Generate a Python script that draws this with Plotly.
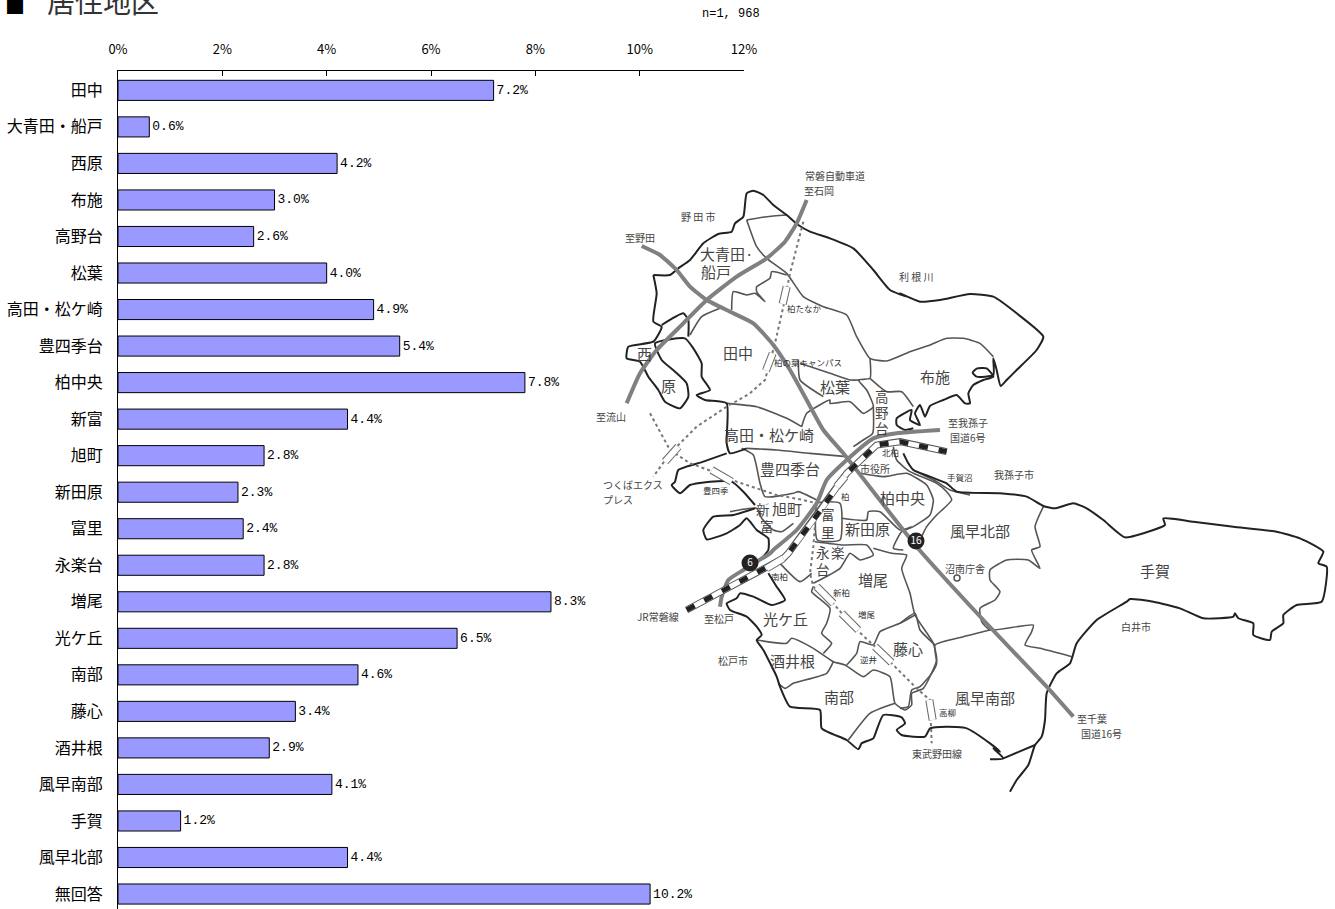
import plotly.graph_objects as go

# ---- chart data ----
areas = ["田中", "大青田・船戸", "西原", "布施", "高野台", "松葉", "高田・松ケ崎", "豊四季台", "柏中央", "新富", "旭町",
         "新田原", "富里", "永楽台", "増尾", "光ケ丘", "南部", "藤心", "酒井根", "風早南部", "手賀", "風早北部", "無回答"]
shares = [7.2, 0.6, 4.2, 3.0, 2.6, 4.0, 4.9, 5.4, 7.8, 4.4, 2.8, 2.3, 2.4, 2.8, 8.3, 6.5, 4.6, 3.4, 2.9, 4.1, 1.2, 4.4, 10.2]
title_mark = "■"
title_text = "居住地区"
n_text = "n=1, 968"

W, H = 1335, 909
LAT = "Liberation Mono, Noto Sans CJK JP"
JP = "Noto Sans CJK JP"

# ---- the map illustration, traced as page pixel positions ----
def Z(ox, oy, pts):
    return [(ox + a / 3, oy + b / 3) for a, b in pts]

outer = [
    Z(590, 160, [(190,345),(240,345),(265,325),(300,300),(340,250),(385,222),(425,215),(435,190),(460,170),(470,100),(490,92),(520,105),(550,135),(590,165),(625,195),(660,215),(720,235),(790,265),(850,330),(900,390),(950,410)])
    + Z(830, 280, [(210,40),(270,65),(330,60),(420,42),(490,50),(560,100),(640,170),(620,210),(560,270),(530,300),(512,318),(500,270),(490,235),(490,285),(440,290),(428,278),(440,266),(470,265),(490,290),(460,300),(430,315),(415,340),(420,370),(405,370),(380,345),(340,360),(300,378),(285,410),(270,375),(255,400),(270,435),(240,420),(245,390),(200,415),(200,435),(225,450),(250,445)]),
    Z(590, 160, [(190,345),(200,400),(190,485),(215,500),(190,545),(115,560),(110,595),(150,605),(175,650),(205,690),(225,725),(270,745),(295,710),(290,670),(255,635),(215,600),(195,550),(285,535),(310,565),(335,610),(335,650),(360,690),(320,705),(345,720),(410,730),(410,850),(420,880),(470,865)]),
    Z(590, 160, [(215,495),(280,460),(295,480),(295,530)]),
    Z(590, 160, [(410,880),(340,905),(265,930),(255,965),(245,975),(270,1000)]) + Z(600, 480, [(270,15),(330,5),(395,5),(430,35),(465,75)]),
    Z(600, 480, [(465,85),(400,105),(340,110),(310,150),(320,178),(380,160),(420,135),(440,115),(470,150),(505,175),(505,210),(480,240)]),
    Z(600, 480, [(505,280),(530,320),(555,360),(515,375),(460,350),(420,340),(410,355),(380,370),(390,390),(440,410),(470,440),(485,465),(470,480),(490,510),(530,590),(540,620),(570,680),(660,690),(665,745),(740,780),(775,808),(785,790),(820,775),(830,750),(850,705),(905,712),(915,730),(890,750),(905,765),(975,770),(990,745),(1040,740),(1100,745),(1170,790),(1200,815)])
    + Z(900, 400, [(280,1045),(310,1075),(270,1078)]),
    Z(900, 400, [(330,1175),(350,1140),(385,1095),(405,1035),(425,1010),(435,960),(440,880),(470,820),(510,790),(530,730),(590,660),(680,605),(690,597),(760,605),(840,625),(910,655),(1000,650),(1005,640),(1015,655),(1060,670),(1060,705),(1110,720),(1115,695),(1150,670),(1150,645),(1190,615),(1265,605),(1280,500),(1255,490),(1270,455),(1200,415),(1130,395),(1000,380),(880,365),(790,355),(795,375),(760,390),(675,412),(610,360),(560,325),(520,310),(465,325),(430,318),(380,290),(300,280),(170,275),(140,250),(90,230),(40,210),(25,190),(10,160)]),
    Z(900, 400, [(405,1035),(310,1075)]),
]
inner = [
    Z(590, 160, [(470,180),(500,260),(530,295),(590,340),(640,410),(700,440),(770,465),(800,530),(840,595)]) + Z(830, 280, [(170,243),(240,215),(300,195),(350,175),(400,175),(450,190),(490,230)]),
    Z(590, 160, [(470,180),(530,170),(590,165)]),
    Z(590, 160, [(300,525),(335,470),(390,445)]),
    Z(590, 160, [(425,450),(430,395),(470,405),(495,400),(525,425),(500,395),(500,380),(540,355),(545,335),(590,345)]),
    Z(830, 280, [(120,235),(120,295),(85,300),(110,330),(130,380),(100,400),(60,365),(0,370)]) + Z(590, 160, [(720,720),(650,760),(635,800)]),
    Z(590, 160, [(625,600),(630,660),(700,710)]),
    Z(590, 160, [(630,610),(720,640),(780,660),(810,660)]),
    Z(830, 280, [(120,295),(170,335),(215,335),(250,380)]),
    Z(590, 160, [(410,730),(500,740),(590,775),(635,800)]),
    Z(590, 160, [(470,865),(560,870),(660,880),(770,890)]),
    Z(830, 280, [(130,380),(128,460),(100,480),(70,500)]),
    Z(730, 420, [(35,85),(70,105),(90,190),(105,230),(190,220),(205,215),(260,240)]),
    Z(730, 420, [(0,275),(80,265),(95,295),(130,330),(155,335),(190,310)]),
    Z(730, 420, [(390,160),(460,170),(530,160),(590,195),(610,240),(600,285),(550,320),(515,335),(490,385),(520,390)]),
    Z(730, 420, [(490,80),(500,120),(540,155),(620,190),(650,215),(665,240),(620,285),(590,320),(570,360)]),
    Z(730, 420, [(550,150),(620,185),(660,210),(720,225)]),
    Z(730, 420, [(335,295),(410,300),(415,275),(450,275),(510,330),(545,320)]),
    Z(730, 420, [(262,250),(330,250),(330,360),(262,360),(262,250)]),
    Z(600, 480, [(645,185),(730,195),(800,195),(820,225),(780,240),(750,220),(720,265),(640,310)]),
    Z(600, 480, [(820,205),(875,220),(920,225),(905,265),(930,340),(945,405),(1000,490),(1010,540),(970,625),(935,640),(935,675),(915,690),(885,670),(870,590),(820,570),(790,590),(735,555),(700,545),(640,505),(575,475),(560,490),(470,480)]),
    Z(600, 480, [(885,670),(810,700),(745,780)]),
    Z(600, 480, [(700,545),(680,580),(580,610),(555,625),(535,610)]),
    Z(600, 480, [(640,320),(635,335),(690,385),(680,430),(665,460),(695,490),(670,520)]),
    Z(600, 480, [(740,555),(770,520),(780,485),(820,495),(840,455),(900,430),(945,405)]),
    Z(600, 480, [(540,250),(600,305),(635,280)]),
    Z(900, 400, [(430,320),(405,380),(420,440),(395,450),(420,505),(385,480),(320,480),(270,510),(270,540),(300,575),(285,600),(240,625),(245,665),(270,690),(400,675),(395,695),(375,735),(420,745),(515,770)]),
    Z(900, 400, [(270,690),(190,710),(105,735),(110,790),(95,820),(60,860),(35,870),(25,920),(0,925)]),
    Z(900, 400, [(0,670),(45,640),(60,690),(105,735)]),
]
roads = [
    Z(590, 160, [(650,120),(620,190),(585,245),(530,295),(440,350),(350,420),(280,490),(200,570),(150,640),(110,730)]),
    Z(590, 160, [(155,258),(210,285),(260,330),(300,380),(350,420),(420,455),(490,490),(550,555),(600,630),(650,720),(700,810),(760,880)]) + Z(900, 400, [(50,440),(250,660),(440,860),(520,950)]),
    Z(730, 420, [(630,30),(500,40),(430,55),(350,120),(290,180),(260,250),(200,330),(130,390)]) + Z(600, 480, [(510,220),(430,270),(385,300),(365,350),(360,380)]),
]
jr_line = Z(600, 480, [(260,390),(480,275),(550,235)]) + Z(730, 420, [(175,400),(265,280),(350,160),(440,75),(510,65),(650,95)])
dotted = [
    Z(590, 160, [(640,185),(600,340),(580,440),(555,550),(525,660),(480,700),(410,740),(320,800),(240,880),(190,950)]),
    Z(590, 160, [(180,760),(240,870),(300,910),(370,935),(440,965),(560,1005),(640,1020)]) + Z(730, 420, [(260,250)]),
    Z(600, 480, [(650,70),(640,200),(630,280),(640,320),(700,370),(760,440),(820,495),(870,545),(950,625),(990,660),(995,790)]),
]
stations = [
    Z(590, 160, [(590,380),(578,432)]), Z(590, 160, [(548,580),(528,632)]), Z(590, 160, [(265,860),(225,905)]),
    Z(590, 160, [(365,930),(425,965)]), Z(600, 480, [(650,320),(700,370)]), Z(600, 480, [(725,400),(775,450)]),
    Z(600, 480, [(825,500),(875,548)]), Z(600, 480, [(988,660),(998,720)]), Z(730, 420, [(345,170),(320,200)]),
    Z(600, 480, [(500,265),(550,235)]),
]
big = [("大青田·",726,253),("船戸",716,271),("田中",738,352),("西",644,353),("原",668,385),("松葉",835,386),("布施",935,376),
       ("高田・松ケ崎",769,434),("豊四季台",790,468),("旭町",787,508),
       ("新田原",867,528),("柏中央",902,497),("風早北部",980,530),
       ("増尾",873,579),("光ケ丘",785,618),("藤心",908,648),("酒井根",792,660),("南部",839,696),
       ("風早南部",985,697),("手賀",1155,570)]
stacked = [("高",882,396),("野",882,412),("台",882,428),("新",763,509),("富",767,526),("富",828,514),("里",828,532),
           ("永",823,552),("楽",838,552),("台",823,569)]
small = [("常磐自動車道",835,175),("至石岡",819,190),("野 田 市",698,216),("至野田",640,237),("利 根 川",916,276),
         ("至流山",611,416),("至我孫子",968,422),("国道6号",968,437),("市役所",875,468),("我孫子市",1014,474),
         ("つくばエクス",633,484),("プレス",618,499),("沼南庁舎",965,568),("JR常磐線",658,616),("至松戸",719,618),
         ("松戸市",733,660),("東武野田線",937,753),("至千葉",1092,718),("国道16号",1101,733),("白井市",1136,626)]
tiny = [("柏たなか",804,308),("柏の葉キャンパス",808,362),("北柏",890,452),("手賀沼",960,477),("豊四季",716,490),("柏",845,496),
        ("南柏",779,576),("新柏",841,592),("増尾",867,614),("逆井",868,659),("高柳",947,712)]

def polyline(paths, color, width, dash="solid", spline=True):
    xs, ys = [], []
    for p in paths:
        xs += [a for a, _ in p] + [None]
        ys += [b for _, b in p] + [None]
    return go.Scatter(x=xs, y=ys, xaxis="x2", yaxis="y2", mode="lines", hoverinfo="skip", showlegend=False,
                      line=dict(color=color, width=width, dash=dash, shape="spline" if spline else "linear", smoothing=0.5))

fig = go.Figure()
fig.add_trace(go.Bar(x=shares, y=areas, orientation="h", marker=dict(color="#9999FF", line=dict(color="#000000", width=1)),
                     texttemplate="%{x:.1f}%", textposition="outside", cliponaxis=False, hoverinfo="skip",
                     textfont=dict(family=LAT, size=13, color="#000000")))
fig.add_trace(polyline(inner, "#555555", 1.6))
fig.add_trace(polyline(outer, "#222222", 2))
fig.add_trace(polyline(dotted, "#777777", 2, "dot", False))
fig.add_trace(polyline(roads, "#808080", 4))
fig.add_trace(polyline([jr_line], "#555555", 7, spline=False))
fig.add_trace(polyline([jr_line], "#FFFFFF", 5, spline=False))
fig.add_trace(polyline([jr_line], "#222222", 5, "9px,11px", False))
fig.add_trace(polyline(stations, "#666666", 8, spline=False))
fig.add_trace(polyline(stations, "#FFFFFF", 6, spline=False))
fig.add_trace(go.Scatter(x=[750, 916], y=[563, 541], xaxis="x2", yaxis="y2", mode="markers+text", text=["6", "16"], hoverinfo="skip",
                         showlegend=False, marker=dict(color="#222222", size=17), textfont=dict(color="#FFFFFF", size=10, family=JP)))
fig.add_trace(go.Scatter(x=[957], y=[578], xaxis="x2", yaxis="y2", mode="markers", hoverinfo="skip", showlegend=False,
                         marker=dict(color="#FFFFFF", size=6, line=dict(color="#555555", width=1.5))))

ann = []
def label(text, x, y, size, color="#444444", font=JP, **kw):
    ann.append(dict(text=text, x=x, y=y, xref="x2", yref="y2", showarrow=False, font=dict(family=font, size=size, color=color), **kw))
for t, x, y in big:
    label(t, x, y, 15)
for t, x, y in stacked:
    label(t, x, y, 13.5)
for t, x, y in small:
    label(t, x, y, 10)
for t, x, y in tiny:
    label(t, x, y, 8.5, "#333333")
label(title_mark, 3, 5, 20, "#000000", xanchor="left")
label(title_text, 45, 1, 28, "#333333", xanchor="left")
label(n_text, 762, 14, 12, "#000000", LAT, xanchor="right")

fig.update_layout(
    width=W, height=H, autosize=False, margin=dict(l=0, r=0, t=0, b=0, pad=0, autoexpand=False),
    paper_bgcolor="#FFFFFF", plot_bgcolor="rgba(0,0,0,0)", showlegend=False, bargap=0.45, annotations=ann,
    xaxis=dict(domain=[118 / W, 744 / W], range=[0, 12], dtick=2, side="top", ticks="inside", ticklen=5, tickcolor="#000000",
               ticksuffix="%", showgrid=False, zeroline=False, showline=True, linecolor="#000000", linewidth=1,
               ticklabelstandoff=11, tickfont=dict(family="Liberation Sans Narrow, " + JP, size=13, color="#000000"), anchor="y"),
    yaxis=dict(domain=[0, 1 - 71 / H], type="category", categoryorder="array", categoryarray=areas, range=[22.41, -0.53],
               ticks="", showgrid=False, zeroline=False, showline=True, linecolor="#000000", linewidth=1,
               ticklabelstandoff=11, tickfont=dict(family=JP, size=16, color="#000000"), anchor="x"),
    xaxis2=dict(domain=[0, 1], range=[0, W], visible=False, anchor="y2", fixedrange=True),
    yaxis2=dict(domain=[0, 1], range=[H, 0], visible=False, anchor="x2", fixedrange=True),
)
fig.write_html("out.html", config={"displayModeBar": False},
               post_script="document.body.style.margin='0';document.body.style.overflow='hidden';")
